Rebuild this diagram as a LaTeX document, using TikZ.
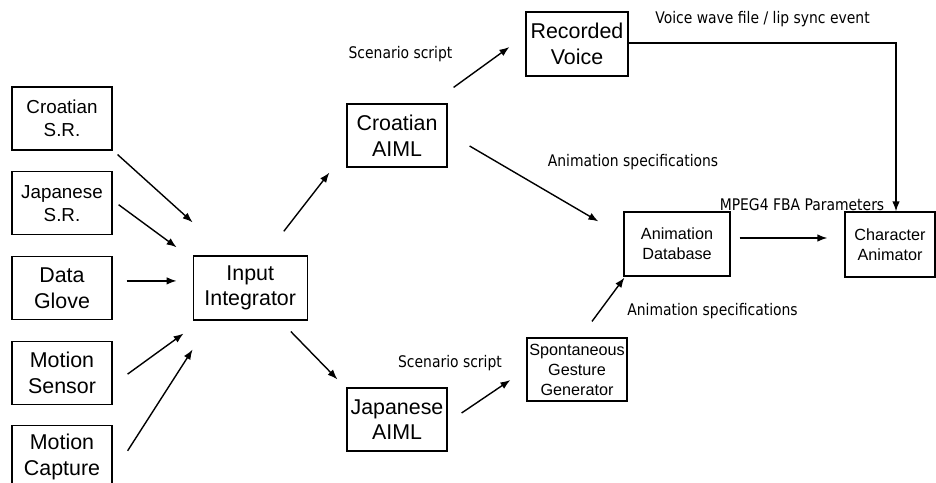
\documentclass[tikz,border=0pt]{standalone}
\usepackage{fontspec}
\setmainfont{Liberation Sans}
\newfontfamily\lblfont[FakeStretch=0.87]{DejaVu Sans}
\usetikzlibrary{arrows.meta,positioning}

\begin{document}
\begin{tikzpicture}[x=1pt,y=-1pt,>={Latex[length=10pt,width=7.5pt]},
    box/.style={draw,line width=1.2pt,align=center,inner sep=0pt,
      minimum width=100pt,minimum height=63pt,
      font=\fontsize{21.4}{25.7}\selectfont},
    srbox/.style={box,font=\fontsize{18.8}{23}\selectfont},
    smallbox/.style={box,font=\fontsize{16.2}{20}\selectfont},
    lbl/.style={inner sep=0pt,font=\lblfont\fontsize{16}{19}\selectfont},
    flow/.style={->,line width=1.4pt},
    node distance=20.5pt]

    \clip (0,0) rectangle (936,482);

    % input devices
    \node[srbox] (csr) at (62,118.5) {Croatian\\S.R.};
    \node[srbox] (jsr) [below=of csr] {Japanese\\S.R.};
    \node[box] (glove) [below=of jsr] {Data\\Glove};
    \node[box] (sensor) [below=of glove] {Motion\\Sensor};
    \node[box] (capture) [below=of sensor] {Motion\\Capture};

    \node[box,minimum width=114pt,minimum height=64pt] (integ) [right=80pt of glove] {Input\\Integrator};

    % dialogue and animation
    \node[box] (caiml) at (397,135.5) {Croatian\\AIML};
    \node[box] (jaiml) at (397,419.5) {Japanese\\AIML};
    \node[box,minimum width=102pt,minimum height=64pt] (voice) at (577,44) {Recorded\\Voice};
    \node[smallbox] (gesture) at (577,369.5) {Spontaneous\\Gesture\\Generator};
    \node[smallbox,minimum width=106pt,minimum height=64pt] (animdb) at (677,244) {Animation\\Database};
    \node[smallbox,minimum width=90pt,minimum height=65pt] (charanim) at (890,244.5) {Character\\Animator};

    % labels
    \node[lbl] (scriptup) at (400.5,54) {Scenario script};
    \node[lbl] (scriptdown) at (450,363) {Scenario script};
    \node[lbl] (wave) at (762.5,19) {Voice wave file / lip sync event};
    \node[lbl] (specup) at (633,162) {Animation specifications};
    \node[lbl] (specdown) at (712.5,311) {Animation specifications};
    \node[lbl] (mpeg) at (802,205) {MPEG4 FBA Parameters};

    \path[flow] ([shift={(5,4)}]csr.south east) edge ([shift={(0,-33)}]integ.north west)
                ([shift={(6,1.5)}]jsr.east) edge ([shift={(-16,-8)}]integ.north west)
                ([shift={(14,-7)}]glove.east) edge ([shift={(-16,-7)}]integ.west)
                ([shift={(15,1.5)}]sensor.east) edge ([shift={(-9,13)}]integ.south west)
                ([shift={(15,-6.5)}]capture.east) edge ([shift={(0,29)}]integ.south west);

    \path[flow] ([shift={(-24,-24)}]integ.north east) edge ([shift={(-17,5)}]caiml.south west)
                ([shift={(-17,11)}]integ.south east) edge ([shift={(-9,-8)}]jaiml.north west)
                ([shift={(6,-16)}]caiml.north east) edge ([shift={(-16,3)}]voice.west)
                ([shift={(22,10.5)}]caiml.east) edge ([shift={(-25,10)}]animdb.north west)
                ([shift={(14,-6.5)}]jaiml.east) edge ([shift={(-16,10.5)}]gesture.west)
                ([shift={(15,-16)}]gesture.north) edge ([shift={(1,1)}]animdb.south west)
                ([shift={(9,-6)}]animdb.east) edge ([shift={(-17,-6.5)}]charanim.west);

    \draw[flow] ([yshift=1pt]voice.east) -| ([xshift=6pt]charanim.north);

\end{tikzpicture}
\end{document}
